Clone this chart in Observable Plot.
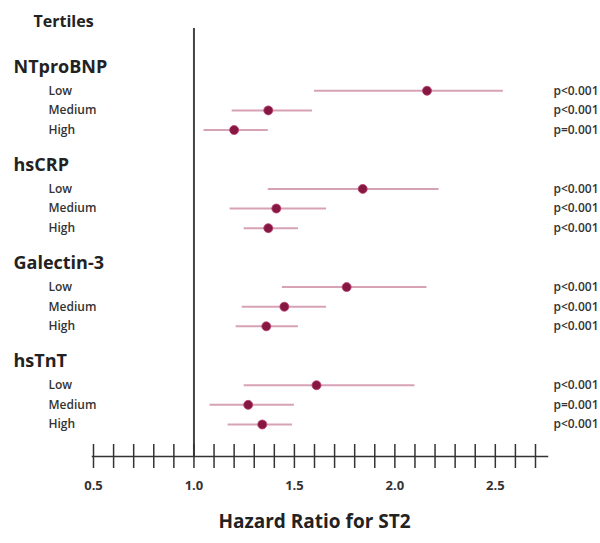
<!DOCTYPE html>
<html>
<head>
<meta charset="utf-8">
<script src="https://cdn.jsdelivr.net/npm/d3@7"></script>
<script src="https://cdn.jsdelivr.net/npm/@observablehq/plot@0.6"></script>
<style>
  html, body { margin: 0; padding: 0; background: #fff; }
  svg { display: block; }
</style>
</head>
<body>
<div id="chart"></div>
<script>
// Biomarkers, and the tertile strata within each
const markers = ["NTproBNP", "hsCRP", "Galectin-3", "hsTnT"];
const tertiles = ["Low", "Medium", "High"];

// Hazard ratios for ST2 with 95% confidence limits, per marker × tertile
const hazardRatio = [
  [2.16, 1.37, 1.20],
  [1.84, 1.41, 1.37],
  [1.76, 1.45, 1.36],
  [1.61, 1.27, 1.34]
];
const ciLower = [
  [1.60, 1.19, 1.05],
  [1.37, 1.18, 1.25],
  [1.44, 1.24, 1.21],
  [1.25, 1.08, 1.17]
];
const ciUpper = [
  [2.54, 1.59, 1.37],
  [2.22, 1.66, 1.52],
  [2.16, 1.66, 1.52],
  [2.10, 1.50, 1.49]
];
const pValues = [
  ["p<0.001", "p<0.001", "p=0.001"],
  ["p<0.001", "p<0.001", "p<0.001"],
  ["p<0.001", "p<0.001", "p<0.001"],
  ["p<0.001", "p=0.001", "p<0.001"]
];

// Axis ticks: labelled every 0.5, minor ticks every 0.1
const xTickLabels = [0.5, 1.0, 1.5, 2.0, 2.5];
const xMinorTicks = d3.range(5, 28).map(d => d / 10);

// Row slots: a spacer and a heading slot before each group's three tertiles
const slots = markers.flatMap((m, i) => [`gap-${i}`, `head-${i}`, ...tertiles.map(t => `${m}|${t}`)]);

const rows = markers.flatMap((m, i) => tertiles.map((t, j) => ({
  marker: m,
  tertile: t,
  key: `${m}|${t}`,
  hr: hazardRatio[i][j],
  lo: ciLower[i][j],
  hi: ciUpper[i][j],
  p: pValues[i][j]
})));
const heads = markers.map((m, i) => ({marker: m, key: `head-${i}`}));

const font = "'Open Sans', 'DejaVu Sans', sans-serif";
const ink = "#222";

const chart = Plot.plot({
  width: 600,
  height: 543,
  marginTop: 51,
  marginBottom: 87,
  marginLeft: 93,
  marginRight: 65,
  style: {fontFamily: font, background: "#fff", color: ink},
  x: {domain: [0.5, 2.7], axis: null},
  y: {domain: slots, type: "point", padding: 0, round: false, axis: null, insetBottom: 32},
  marks: [
    // reference line at HR = 1
    Plot.ruleX([1], {stroke: "#444", strokeWidth: 2, insetTop: -23}),
    // horizontal axis line
    Plot.frame({anchor: "bottom", stroke: "#333", strokeWidth: 1.5, insetLeft: -1, insetRight: -12}),
    // crossing ticks
    Plot.axisX({ticks: xMinorTicks, tickSize: 24, dy: -12, tickFormat: () => "", stroke: "#333", strokeWidth: 1.5, label: null}),
    // tick labels
    Plot.axisX({ticks: xTickLabels, tickSize: 0, tickPadding: 24, tickFormat: d3.format(".1f"),
      fontSize: 13, fontWeight: 700, fill: "#333", label: null}),
    // confidence intervals
    Plot.ruleY(rows, {y: "key", x1: "lo", x2: "hi", stroke: "#d7a2b6", strokeWidth: 2}),
    // point estimates
    Plot.dot(rows, {x: "hr", y: "key", r: 4.5, fill: "#861743", stroke: "#b9406e", strokeWidth: 0.8}),
    // marker headings
    Plot.text(heads, {y: "key", text: "marker", frameAnchor: "left", textAnchor: "start", dx: -80, dy: -4,
      fontSize: 18, fontWeight: 700, fill: ink}),
    // tertile labels
    Plot.text(rows, {y: "key", text: "tertile", frameAnchor: "left", textAnchor: "start", dx: -45,
      fontSize: 12, fontWeight: 600, fill: "#333"}),
    // p-values
    Plot.text(rows, {y: "key", text: "p", frameAnchor: "right", textAnchor: "end", dx: 63,
      fontSize: 12, fontWeight: 600, fill: "#333"}),
    // column heading
    Plot.text(["Tertiles"], {frameAnchor: "top-left", textAnchor: "start", dx: -60, dy: -36,
      fontSize: 16, fontWeight: 700, fill: ink}),
    // axis title
    Plot.text(["Hazard Ratio for ST2"], {frameAnchor: "bottom", dy: 71, fontSize: 19, fontWeight: 700, fill: ink})
  ]
});

document.getElementById("chart").appendChild(chart);
</script>
</body>
</html>
